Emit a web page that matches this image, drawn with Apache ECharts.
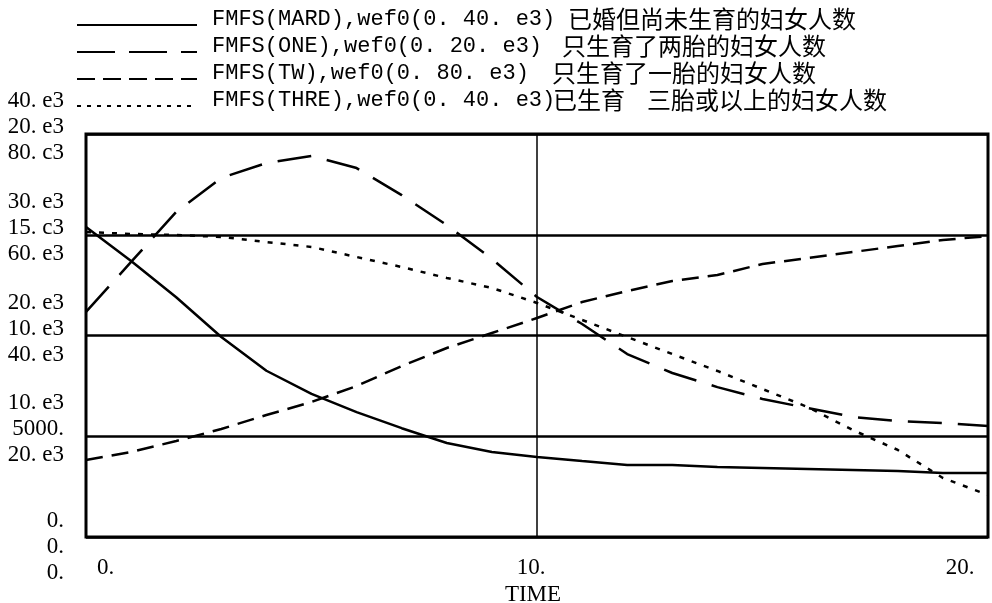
<!DOCTYPE html>
<html>
<head>
<meta charset="utf-8">
<script src="https://cdn.jsdelivr.net/npm/echarts@6/dist/echarts.min.js"></script>
<style>
  html, body { margin: 0; padding: 0; background: #fff; }
  #chart { width: 992px; height: 603px; }
</style>
</head>
<body>
<div id="chart"></div>
<script>
// Simulation time (years)
const times = [0, 1, 2, 3, 4, 5, 6, 7, 8, 9, 10, 11, 12, 13, 14, 15, 16, 17, 18, 19, 20];

// Women counts by fertility group
const mard = [30770, 27400, 23800, 19850, 16500, 14200, 12400, 10800, 9330, 8440, 7940, 7540, 7150, 7150, 6950, 6850, 6750, 6650, 6550, 6350, 6350];
const one  = [11170, 13650, 16130, 17820, 18560, 18910, 18310, 16970, 15480, 13800, 11910, 10570, 9080, 8140, 7440, 6850, 6400, 5960, 5760, 5660, 5510];
const tw   = [15280, 16870, 19060, 21440, 24220, 26800, 29970, 33940, 37520, 40490, 43470, 46650, 48830, 50820, 52010, 54190, 55380, 56570, 57760, 58950, 59740];
const thre = [30270, 30080, 29980, 29780, 29280, 28790, 27790, 26800, 25710, 24720, 23230, 21540, 19850, 18160, 16480, 14690, 12900, 10620, 8640, 5860, 4170];

// Stacked scale labels (one column per plotted scale)
const labels40 = ['0.', '10. e3', '20. e3', '30. e3', '40. e3'];
const labels20 = ['0.', '5000.', '10. e3', '15. c3', '20. e3'];
const labels80 = ['0.', '20. e3', '40. e3', '60. e3', '80. c3'];
const timeLabels = ['0.', '10.', '20.'];

// Legend text
const seriesCodes = ['FMFS(MARD)', 'FMFS(ONE)', 'FMFS(TW)', 'FMFS(THRE)'];
const scaleNotes  = ['wef0(0. 40. e3)', 'wef0(0. 20. e3)', 'wef0(0. 80. e3)', 'wef0(0. 40. e3)'];
const descriptions = [['已婚但尚未生育的妇女人数'], ['只生育了两胎的妇女人数'], ['只生育了一胎的妇女人数'], ['已生育', '三胎或以上的妇女人数']];

const pairs = arr => times.map((t, i) => [t, arr[i]]);

// line styles per series: solid, long dash, medium dash, dotted
const dashes = ['solid', [34, 16], [17, 9], [5, 8]];
const legendDashes = [null, [38, 14], [18, 8], [4, 6]];
const seriesData = [mard, one, tw, thre];
const axisIndex = [0, 1, 2, 0];

const serif = '"Liberation Serif", "Times New Roman", serif';
const cjk = '"Noto Sans CJK SC", sans-serif';

const rowY = [19, 46, 73, 100];
const cjkX = [[568], [562], [552], [553, 647]];

const graphic = [];
seriesCodes.forEach((code, i) => {
  const y = rowY[i];
  const line = { type: 'line', shape: { x1: 77, y1: y + 6, x2: 197, y2: y + 6 },
    style: { stroke: '#000', lineWidth: 2 } };
  if (legendDashes[i]) line.style.lineDash = legendDashes[i];
  graphic.push(line);
  graphic.push({ type: 'text', x: 212, y: y,
    style: { text: code + ',' + scaleNotes[i], font: '22px "Liberation Mono", monospace', fill: '#000', verticalAlign: 'middle' } });
  descriptions[i].forEach((d, k) => {
    graphic.push({ type: 'text', x: cjkX[i][k], y: y,
      style: { text: d, font: '24px ' + cjk, fill: '#000', verticalAlign: 'middle' } });
  });
});

const chart = echarts.init(document.getElementById('chart'));
chart.setOption({
  animation: false,
  backgroundColor: '#fff',
  grid: {
    left: 86, right: 4, top: 134, bottom: 66,
    outerBoundsMode: 'none',
    show: true, borderColor: '#000', borderWidth: 3
  },
  xAxis: {
    type: 'value', min: 0, max: 20, interval: 10,
    name: 'TIME', nameLocation: 'middle', nameGap: 41,
    nameTextStyle: { fontFamily: serif, fontSize: 23, color: '#000', padding: [0, 8, 0, 0] },
    axisLine: { show: false }, axisTick: { show: false },
    splitLine: { show: true, lineStyle: { color: '#000', width: 1.5 } },
    axisLabel: {
      margin: 19, showMinLabel: true, showMaxLabel: true,
      formatter: v => {
        const i = Math.round(v / 10);
        return '{t' + i + '|' + timeLabels[i] + '}';
      },
      rich: {
        t0: { fontFamily: serif, fontSize: 23, color: '#000', padding: [0, 0, 0, 39] },
        t1: { fontFamily: serif, fontSize: 23, color: '#000', padding: [0, 12, 0, 0] },
        t2: { fontFamily: serif, fontSize: 23, color: '#000', padding: [0, 56, 0, 0] }
      }
    }
  },
  yAxis: [
    {
      type: 'value', min: 0, max: 40000, interval: 10000,
      axisLine: { show: false }, axisTick: { show: false },
      splitLine: { show: true, lineStyle: { color: '#000', width: 2.5 } },
      axisLabel: {
        fontFamily: serif, fontSize: 23, color: '#000', lineHeight: 26,
        align: 'right', margin: 22,
        showMinLabel: true, showMaxLabel: true,
        formatter: v => {
          const i = Math.round(v / 10000);
          const txt = [labels40[i], labels20[i], labels80[i]].join('\n');
          // spacer line nudges each stacked group off its grid line
          return i === 0 ? '{lo| }\n' + txt : txt + '\n{hi| }';
        },
        rich: {
          lo: { fontSize: 1, lineHeight: 20 },
          hi: { fontSize: 1, lineHeight: 14 }
        }
      }
    },
    { type: 'value', min: 0, max: 20000, show: false },
    { type: 'value', min: 0, max: 80000, show: false }
  ],
  series: seriesCodes.map((code, i) => ({
    name: code,
    type: 'line',
    yAxisIndex: axisIndex[i],
    data: pairs(seriesData[i]),
    symbol: 'none',
    lineStyle: { color: '#000', width: 2.5, type: dashes[i] }
  })),
  graphic: graphic
});
</script>
</body>
</html>
